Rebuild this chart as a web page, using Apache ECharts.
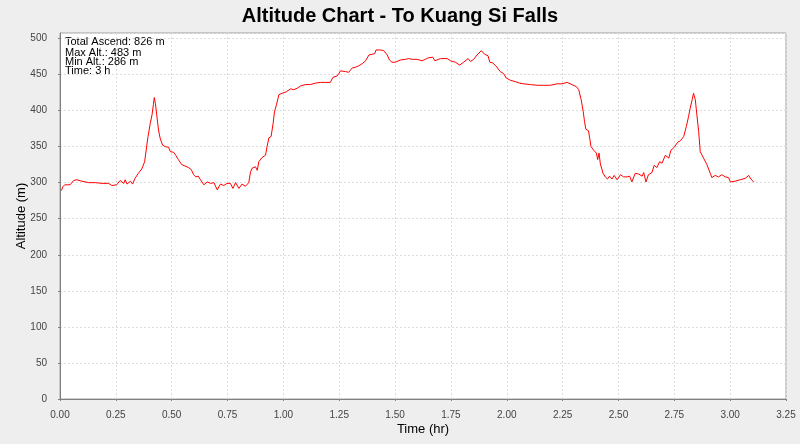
<!DOCTYPE html>
<html>
<head>
<meta charset="utf-8">
<script src="https://cdn.jsdelivr.net/npm/echarts@6/dist/echarts.min.js"></script>
<style>html,body{margin:0;padding:0;background:#EEEEEE;}#c{width:800px;height:444px;}</style>
</head>
<body>
<div id="c"></div>
<script>
const titleText = "Altitude Chart - To Kuang Si Falls";
const xAxisName = "Time (hr)";
const yAxisName = "Altitude (m)";
const infoLines = ["Total Ascend: 826 m", "Max Alt.: 483 m", "Min Alt.: 286 m", "Time: 3 h"];

const timeHr = [
0.006,0.012,0.021,0.045,0.061,0.075,0.098,0.128,0.158,0.188,0.218,0.232,0.254,0.269,0.285,0.292,0.300,0.315,0.325,0.336,
0.351,0.366,0.379,0.384,0.394,0.404,0.412,0.418,0.422,0.427,0.433,0.441,0.448,0.459,0.471,0.486,0.494,0.509,0.518,0.530,
0.545,0.560,0.575,0.588,0.598,0.608,0.619,0.629,0.644,0.659,0.674,0.689,0.704,0.718,0.733,0.748,0.763,0.774,0.786,0.801,
0.815,0.830,0.845,0.853,0.860,0.875,0.883,0.890,0.905,0.920,0.927,0.935,0.945,0.954,0.960,0.969,0.980,0.995,1.013,1.032,
1.047,1.062,1.077,1.098,1.121,1.144,1.166,1.189,1.210,1.222,1.241,1.256,1.278,1.292,1.308,1.322,1.337,1.353,1.368,1.383,
1.397,1.409,1.415,1.434,1.449,1.465,1.475,1.486,1.501,1.524,1.547,1.561,1.577,1.598,1.621,1.636,1.648,1.669,1.678,1.703,
1.733,1.748,1.770,1.789,1.807,1.827,1.837,1.852,1.867,1.886,1.901,1.916,1.924,1.937,1.951,1.971,1.986,1.998,2.016,2.039,
2.057,2.075,2.083,2.106,2.136,2.165,2.195,2.225,2.247,2.270,2.292,2.312,2.322,2.333,2.342,2.348,2.354,2.366,2.371,2.377,
2.389,2.401,2.407,2.413,2.419,2.427,2.431,2.441,2.451,2.460,2.471,2.481,2.494,2.509,2.523,2.539,2.550,2.560,2.575,2.590,
2.606,2.613,2.623,2.634,2.650,2.660,2.672,2.684,2.695,2.710,2.725,2.735,2.750,2.765,2.777,2.792,2.804,2.814,2.821,2.830,
2.836,2.844,2.851,2.859,2.866,2.881,2.896,2.911,2.918,2.933,2.948,2.963,2.978,2.993,3.001,3.022,3.045,3.068,3.083,3.093,
3.105
];
const altitudeM = [
289,294,297,297,303,304,302,300,300,299,299,296,297,303,299,304,298,302,298,306,
313,319,329,341,364,382,394,408,418,410,394,373,362,352,350,349,343,342,338,332,
325,323,321,318,311,308,309,304,297,301,299,300,290,298,296,299,299,292,300,292,
298,295,300,315,320,322,317,329,335,338,350,362,364,382,398,408,422,424,426,430,
429,431,434,436,436,438,439,439,439,446,448,455,454,453,459,460,462,465,469,477,
478,479,484,484,483,477,470,467,467,470,471,472,471,471,469,471,473,474,469,472,
472,469,467,463,467,472,468,471,477,483,478,476,467,466,462,454,451,445,442,440,
438,437,439,436,435,435,435,437,437,439,436,433,429,415,399,385,374,372,362,350,
345,341,332,341,326,325,313,308,305,309,305,310,304,311,308,308,309,301,313,312,
309,314,301,311,314,324,321,329,327,338,334,345,349,356,358,364,378,392,403,415,
424,415,394,371,343,334,325,313,307,310,308,311,308,307,301,302,304,306,310,305,
301
];

const FONT = "'Liberation Sans',Arial,sans-serif";
const chart = echarts.init(document.getElementById('c'), null, {renderer: 'canvas'});
const seriesData = timeHr.map((t, i) => [t, altitudeM[i]]);

chart.setOption({
  backgroundColor: '#EEEEEE',
  animation: false,
  title: {
    text: titleText,
    left: 'center',
    top: 1,
    textStyle: {fontFamily: FONT, fontSize: 20, fontWeight: 'bold', color: '#000'}
  },
  grid: {
    left: 60, right: 14, top: 33, bottom: 45,
    containLabel: false, outerBoundsMode: 'none',
    show: true, backgroundColor: '#FFFFFF', borderColor: '#A0A0A0', borderWidth: 1
  },
  xAxis: {
    type: 'value', min: 0, max: 3.25, interval: 0.25,
    offset: 4,
    name: xAxisName, nameLocation: 'middle', nameGap: 20, nameMoveOverlap: false,
    nameTextStyle: {fontFamily: FONT, fontSize: 13, color: '#000'},
    axisLine: {show: true, lineStyle: {color: '#808080'}},
    axisTick: {show: true, length: 2, lineStyle: {color: '#808080'}},
    axisLabel: {fontFamily: FONT, fontSize: 10, color: '#444', margin: 7,
      formatter: v => v.toFixed(2)},
    splitLine: {show: true, lineStyle: {color: '#DCDCDC', type: [2, 2], width: 1}}
  },
  yAxis: {
    type: 'value', min: 0, max: 507.5, interval: 50,
    offset: 5,
    name: yAxisName, nameLocation: 'middle', nameGap: 27, nameRotate: 90, nameMoveOverlap: false,
    nameTextStyle: {fontFamily: FONT, fontSize: 13, color: '#000'},
    axisLine: {show: true, lineStyle: {color: '#808080'}},
    axisTick: {show: true, length: 2, lineStyle: {color: '#808080'}},
    axisLabel: {fontFamily: FONT, fontSize: 10, color: '#444', margin: 8, showMaxLabel: false,
      formatter: v => String(Math.round(v))},
    splitLine: {show: true, lineStyle: {color: '#DCDCDC', type: [2, 2], width: 1}}
  },
  graphic: infoLines.map((s, i) => ({
    type: 'text', left: 65, top: [36.5, 47.5, 56.5, 65.5][i],
    style: {text: s, fontFamily: FONT, fontSize: 11, fill: '#000'}
  })),
  series: [{
    type: 'line', data: seriesData, showSymbol: false, symbol: 'none',
    lineStyle: {color: '#FF0000', width: 1}, itemStyle: {color: '#FF0000'}
  }]
});
</script>
</body>
</html>
